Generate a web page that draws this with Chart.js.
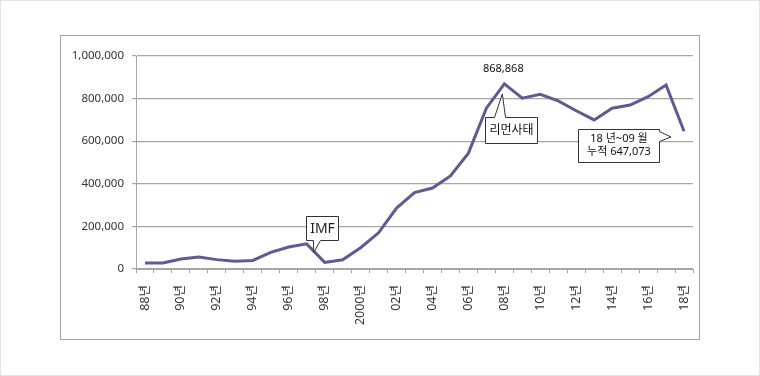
<!DOCTYPE html>
<html>
<head>
<meta charset="utf-8">
<script src="https://cdn.jsdelivr.net/npm/chart.js@4.4.1/dist/chart.umd.min.js"></script>
<style>
  html, body { margin: 0; padding: 0; background: #fff; }
  #outer { position: relative; width: 758px; height: 374px; border: 1px solid #e3e3e3; }
  #box { position: absolute; left: 59px; top: 34px; width: 638px; height: 303px; border: 1px solid #a6a6a6; }
  #box canvas { display: block; }
</style>
</head>
<body>
<div id="outer">
  <div id="box"><canvas id="chart" width="638" height="303"></canvas></div>
</div>
<script>
// 연도 라벨 (88년 ~ 18년)
var years = ["88년","89년","90년","91년","92년","93년","94년","95년","96년","97년",
  "98년","99년","2000년","01년","02년","03년","04년","05년","06년","07년",
  "08년","09년","10년","11년","12년","13년","14년","15년","16년","17년","18년"];

// 연도별 건수
var values = [28000, 28000, 47000, 56000, 44000, 36000, 40000, 78000, 103000, 118000,
  31000, 43000, 100000, 170000, 286000, 359000, 380000, 437000, 544000, 755000,
  868868, 802000, 820000, 789000, 743000, 700000, 755000, 770000, 809000, 864000,
  647073];

var yTicks = [0, 200000, 400000, 600000, 800000, 1000000];

var baseFont = "'Noto Sans', 'Noto Sans CJK KR', sans-serif";

// 말풍선 그리기
function callout(ctx, x1, y1, x2, y2, tri) {
  ctx.beginPath();
  ctx.moveTo(x1, y1);
  if (tri.side === "top") {
    ctx.lineTo(tri.a, y1);
    ctx.lineTo(tri.tx, tri.ty);
    ctx.lineTo(tri.b, y1);
  }
  ctx.lineTo(x2, y1);
  if (tri.side === "right") {
    ctx.lineTo(x2, tri.a);
    ctx.lineTo(tri.tx, tri.ty);
    ctx.lineTo(x2, tri.b);
  }
  ctx.lineTo(x2, y2);
  if (tri.side === "bottom") {
    ctx.lineTo(tri.b, y2);
    ctx.lineTo(tri.tx, tri.ty);
    ctx.lineTo(tri.a, y2);
  }
  ctx.lineTo(x1, y2);
  ctx.closePath();
  ctx.fillStyle = "#fff";
  ctx.fill();
  ctx.strokeStyle = "#333";
  ctx.lineWidth = 1;
  ctx.stroke();
}

var notes = {
  id: "notes",
  afterDatasetsDraw: function(chart) {
    var ctx = chart.ctx;
    var xs = chart.scales.x, ys = chart.scales.y;
    ctx.save();

    // IMF (97~98년)
    var px = xs.getPixelForValue(10), py = ys.getPixelForValue(values[10]);
    var bx = Math.round(px - 19), by = Math.round(py - 46);
    callout(ctx, bx + 0.5, by + 0.5, bx + 32.5, by + 24.5,
      { side: "bottom", a: bx + 7.5, b: bx + 14.5, tx: px - 11, ty: py - 10 });
    ctx.fillStyle = "#222";
    ctx.font = "14px " + baseFont;
    ctx.textAlign = "center";
    ctx.textBaseline = "middle";
    ctx.fillText("IMF", bx + 16.5, by + 13);

    // 08년 최고치
    px = xs.getPixelForValue(20); py = ys.getPixelForValue(values[20]);
    ctx.font = "11px " + baseFont;
    ctx.fillStyle = "#111";
    ctx.fillText("868,868", px - 1, py - 15);

    // 리먼사태
    var lx = Math.round(px - 19), ly = Math.round(py + 33);
    callout(ctx, lx + 0.5, ly + 0.5, lx + 52.5, ly + 26.5,
      { side: "top", a: lx + 9.5, b: lx + 20.5, tx: px - 2, ty: py + 10 });
    ctx.fillStyle = "#111";
    ctx.font = "12px " + baseFont;
    ctx.fillText("리먼사태", lx + 26.5, ly + 14);

    // 18년 누적
    px = xs.getPixelForValue(30); py = ys.getPixelForValue(values[30]);
    var rx = Math.round(px - 106), ry = Math.round(py - 2);
    callout(ctx, rx + 0.5, ry + 0.5, rx + 81.5, ry + 33.5,
      { side: "right", a: ry + 2.5, b: ry + 12.5, tx: rx + 93, ty: ry + 8 });
    ctx.fillStyle = "#111";
    ctx.font = "11px " + baseFont;
    ctx.fillText("18 년~09 월", rx + 41, ry + 10);
    ctx.fillText("누적 647,073", rx + 41, ry + 23);

    ctx.restore();
  }
};

var data = {
  labels: years,
  datasets: [{
    data: values,
    borderColor: "#5d5b97",
    borderWidth: 3,
    pointRadius: 0,
    tension: 0,
    fill: false
  }]
};

var options = {
  responsive: false,
  animation: false,
  layout: { padding: { top: 20, right: 0, left: 0, bottom: 0 } },
  plugins: { legend: { display: false }, tooltip: { enabled: false } },
  scales: {
    x: {
      offset: true,
      grid: { offset: true, drawOnChartArea: false, drawTicks: true, tickLength: 4, color: "#a6a6a6" },
      border: { color: "#a6a6a6" },
      ticks: {
        autoSkip: false,
        maxRotation: 90,
        minRotation: 90,
        padding: 12,
        color: "#333",
        font: { family: baseFont, size: 12.5 },
        callback: function(v, i) { return i % 2 === 0 ? years[i] : ""; }
      },
      afterFit: function(scale) { scale.height = 70; scale.paddingRight = 6; }
    },
    y: {
      min: 0,
      max: 1000000,
      afterBuildTicks: function(scale) { scale.ticks = yTicks.map(function(v) { return { value: v }; }); },
      grid: { color: "#a6a6a6", tickLength: 4, lineWidth: 1.2 },
      border: { color: "#a6a6a6" },
      ticks: {
        padding: 8,
        color: "#333",
        font: { family: baseFont, size: 11.5 },
        callback: function(v) { return v.toLocaleString("en-US"); }
      },
      afterFit: function(scale) { scale.width = 75; }
    }
  }
};

var chart = new Chart("chart", { type: "line", data: data, options: options, plugins: [notes] });
</script>
</body>
</html>
